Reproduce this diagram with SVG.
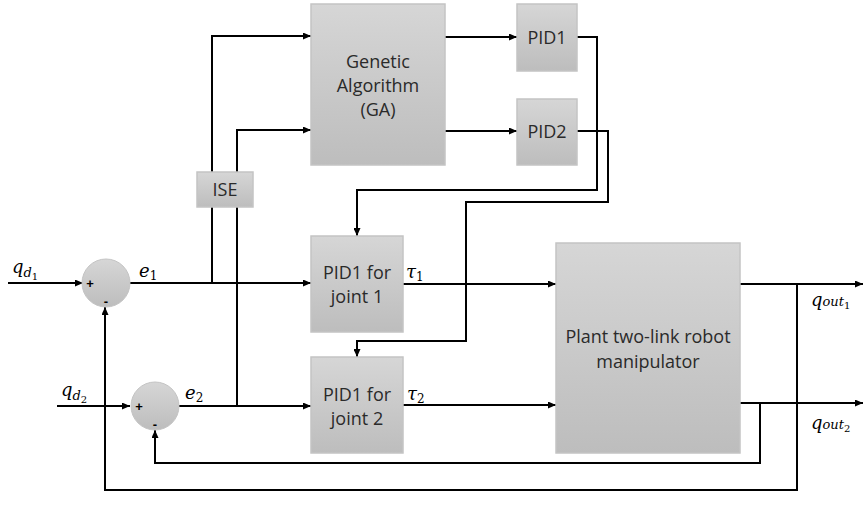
<svg xmlns="http://www.w3.org/2000/svg" width="863" height="521" viewBox="0 0 863 521">
<defs>
<linearGradient id="g" x1="0" y1="0" x2="0" y2="1">
<stop offset="0" stop-color="#d6d6d6"/>
<stop offset="1" stop-color="#bdbdbd"/>
</linearGradient>
<marker id="a" markerWidth="8" markerHeight="7" refX="8" refY="3.5" orient="auto" markerUnits="userSpaceOnUse">
<path d="M0,0 L8,3.5 L0,7 Z" fill="#000"/>
</marker>
</defs>
<style>
.box{fill:url(#g);stroke:#c4c4c4;stroke-width:1.5}
.t{font-family:"Open Sans","Liberation Sans",sans-serif;font-size:18px;fill:#2a2a2a;text-anchor:middle}
.s{font-family:"Liberation Sans",sans-serif;font-size:13px;font-weight:bold;fill:#000;text-anchor:middle}
.m{font-family:"DejaVu Serif","Liberation Serif",serif;font-style:italic;fill:#000}
.c2{fill:none;stroke:#000;stroke-width:2;marker-end:url(#a)}
</style>
<rect width="863" height="521" fill="#fff"/>
<g id="connectors">
<path class="c2" d="M8,283 H83"/>
<path class="c2" d="M57,406 H130"/>
<path class="c2" d="M130,283 H311"/>
<path class="c2" d="M179,406 H311"/>
<path class="c2" d="M212,283 V36 H311"/>
<path class="c2" d="M237,406 V130 H311"/>
<path class="c2" d="M445,37 H517"/>
<path class="c2" d="M445,131 H517"/>
<path class="c2" d="M577,37 H597 V190 H357 V236"/>
<path class="c2" d="M577,131 H608 V202 H466 V341 H357 V357"/>
<path class="c2" d="M403,284 H556"/>
<path class="c2" d="M403,405 H556"/>
<path class="c2" d="M740,284 H863"/>
<path class="c2" d="M740,403 H863"/>
<path class="c2" d="M797,284 V490 H105 V307"/>
<path class="c2" d="M760,403 V463 H155 V430"/>
</g>
<g id="sum1">
<circle cx="106" cy="283" r="24" fill="url(#g)" stroke="#c4c4c4" stroke-width="1"/>
<text class="s" x="90" y="288">+</text>
<text class="s" x="106" y="306">-</text>
</g>
<g id="sum2">
<circle cx="155" cy="406" r="24" fill="url(#g)" stroke="#c4c4c4" stroke-width="1"/>
<text class="s" x="139" y="411">+</text>
<text class="s" x="155" y="429">-</text>
</g>
<g id="ise">
<rect class="box" x="197" y="172" width="56" height="35"/>
<text class="t" x="225" y="196">ISE</text>
</g>
<g id="ga">
<rect class="box" x="311" y="4" width="134" height="161"/>
<text class="t" x="378" y="68">Genetic</text>
<text class="t" x="378" y="92">Algorithm</text>
<text class="t" x="378" y="116">(GA)</text>
</g>
<g id="pid1">
<rect class="box" x="517" y="4" width="60" height="67"/>
<text class="t" x="547" y="44">PID1</text>
</g>
<g id="pid2">
<rect class="box" x="517" y="99" width="60" height="66"/>
<text class="t" x="547" y="138">PID2</text>
</g>
<g id="pidj1">
<rect class="box" x="311" y="236" width="92" height="96"/>
<text class="t" x="357" y="279">PID1 for</text>
<text class="t" x="357" y="303">joint 1</text>
</g>
<g id="pidj2">
<rect class="box" x="311" y="357" width="92" height="96"/>
<text class="t" x="357" y="401">PID1 for</text>
<text class="t" x="357" y="425">joint 2</text>
</g>
<g id="plant">
<rect class="box" x="556" y="243" width="184" height="210"/>
<text class="t" x="648" y="343">Plant two-link robot</text>
<text class="t" x="648" y="368">manipulator</text>
</g>
<g id="labels">
<text class="m" x="12" y="273" font-size="18">q<tspan font-size="13" dy="4">d</tspan><tspan font-size="10" dy="3" font-style="normal">1</tspan></text>
<text class="m" x="61" y="396" font-size="18">q<tspan font-size="13" dy="4">d</tspan><tspan font-size="10" dy="3" font-style="normal">2</tspan></text>
<text class="m" x="139" y="277" font-size="18">e<tspan font-size="12" dy="3" font-style="normal">1</tspan></text>
<text class="m" x="185" y="399" font-size="18">e<tspan font-size="12" dy="3" font-style="normal">2</tspan></text>
<text class="m" x="406" y="278" font-size="18">τ<tspan font-size="12" dy="3" font-style="normal">1</tspan></text>
<text class="m" x="407" y="400" font-size="18">τ<tspan font-size="12" dy="3" font-style="normal">2</tspan></text>
<text class="m" x="811" y="306" font-size="18">q<tspan font-size="13">out</tspan><tspan font-size="10" dy="3" font-style="normal">1</tspan></text>
<text class="m" x="811" y="429" font-size="18">q<tspan font-size="13">out</tspan><tspan font-size="10" dy="3" font-style="normal">2</tspan></text>
</g>
</svg>
